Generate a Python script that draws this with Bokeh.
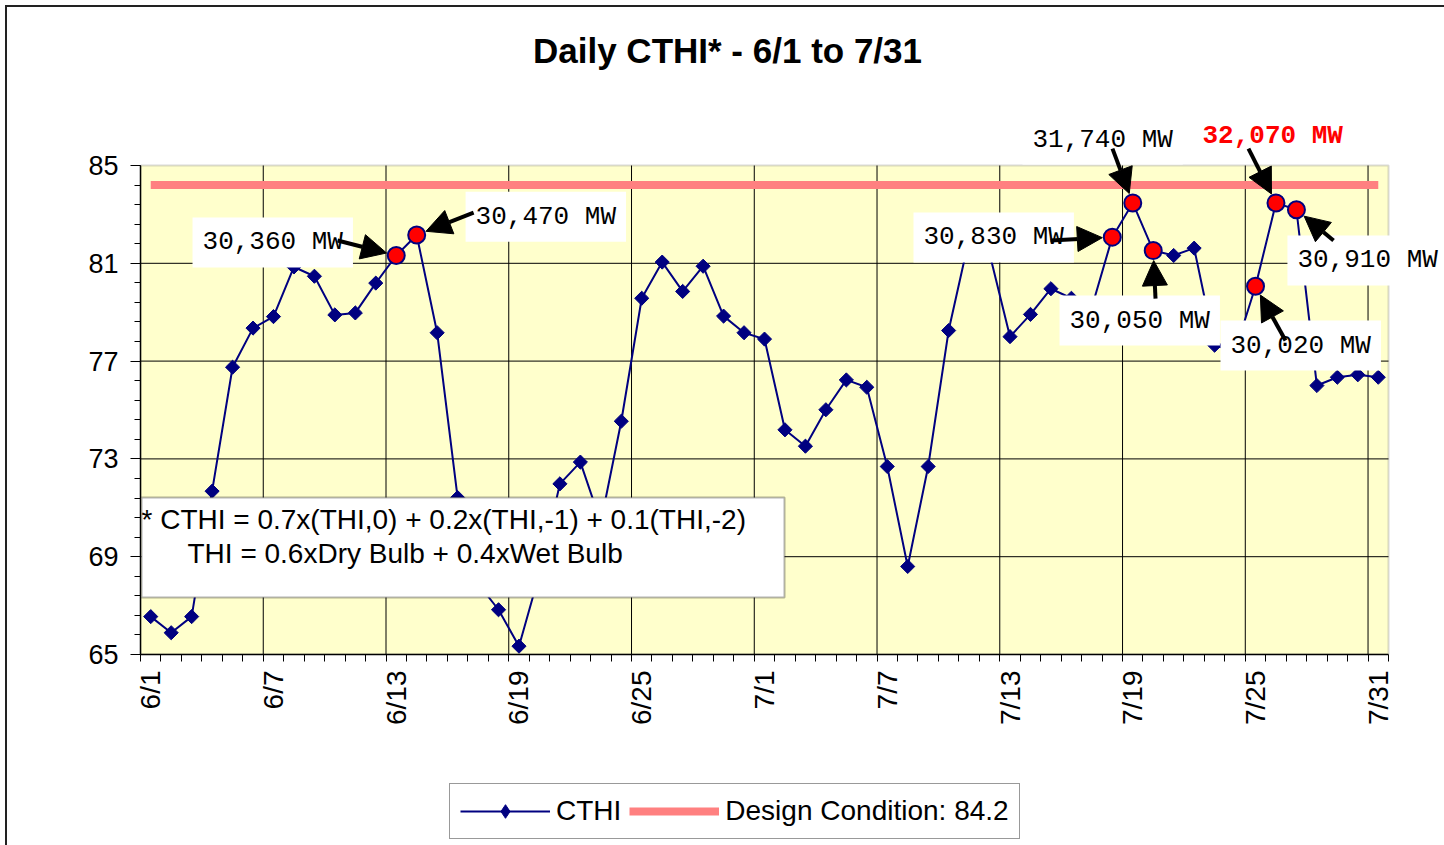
import math
from bokeh.plotting import figure
from bokeh.layouts import column
from bokeh.models import (FixedTicker, Range1d, Label, Arrow, NormalHead,
                          BoxAnnotation, Legend, LegendItem)
from bokeh.embed import file_html
from bokeh.resources import INLINE

# ---------------- data ----------------
dates = [f"6/{d}" for d in range(1, 31)] + [f"7/{d}" for d in range(1, 32)]
cthi = [66.55, 65.89, 66.55, 71.68, 76.75, 78.35, 78.82, 80.85, 80.47, 78.89,
        78.97, 80.19, 81.32, 82.16, 78.16, 71.42, 67.90, 66.83, 65.34, 68.30,
        71.98, 72.87, 70.40, 74.54, 79.57, 81.05, 79.85, 80.88, 78.84, 78.16,
        77.90, 74.19, 73.52, 75.01, 76.23, 75.93, 72.69, 68.60, 72.69, 78.25,
        82.00, 81.40, 78.00, 78.91, 79.96, 79.57, 79.20, 82.07, 83.47, 81.52,
        81.32, 81.62, 77.65, 77.40, 80.06, 83.47, 83.19, 76.00, 76.34, 76.44,
        76.34]
design_condition = 84.2
tick_labels = ["6/1", "6/7", "6/13", "6/19", "6/25", "7/1", "7/7", "7/13", "7/19", "7/25", "7/31"]
y_ticks = [65, 69, 73, 77, 81, 85]
peak_dates = ["6/13", "6/14", "7/18", "7/19", "7/20", "7/25", "7/26", "7/27"]
peak_loads = ["30,360 MW", "30,470 MW", "30,830 MW", "31,740 MW",
              "30,050 MW", "30,020 MW", "32,070 MW", "30,910 MW"]
title_text = "Daily CTHI* - 6/1 to 7/31"
note_lines = ["* CTHI = 0.7x(THI,0) + 0.2x(THI,-1) + 0.1(THI,-2)",
              "THI = 0.6xDry Bulb + 0.4xWet Bulb"]

# ---------------- layout constants (page pixels) ----------------
OX, OY = 7, 7                     # layout origin on the page (css margin)
W = 1437
H1 = 728                          # main chart height
H2 = 110                          # legend strip height
PA_L, PA_R, PA_T, PA_B = 140, 1388, 165, 654     # chart plot area on page
FR_L, FR_R, FR_T = 140, OX + W, 20               # bokeh frame on page
N = len(dates)
Y0, Y1 = min(y_ticks), max(y_ticks)
PX_X = (PA_R - PA_L) / N
PX_Y = (PA_B - PA_T) / (Y1 - Y0)
X0 = -0.5
XMAX = X0 + (FR_R - FR_L) / PX_X
YMAX = Y0 + (PA_B - FR_T) / PX_Y


def dx(px):
    return X0 + (px - PA_L) / PX_X


def dy(py):
    return Y0 + (PA_B - py) / PX_Y


SANS = "Liberation Sans"
MONO = "Liberation Mono"
x = list(range(N))

p = figure(width=W, height=H1, output_backend="svg", toolbar_location=None,
           x_range=Range1d(X0, XMAX), y_range=Range1d(Y0, YMAX),
           min_border_left=FR_L - OX, min_border_right=0, min_border_top=FR_T - OY,
           min_border_bottom=OY + H1 - PA_B,
           background_fill_color="white", border_fill_color="white")
p.outline_line_color = None
p.xgrid.visible = False
p.ygrid.visible = False

# plot-area background
p.add_layout(BoxAnnotation(left=X0, right=N - 0.5, bottom=Y0, top=Y1, fill_color="#FFFFCC",
                           fill_alpha=1, line_color="#808080", line_width=2, level="image"))

# ---- x axis: labels at category centres, minor ticks at boundaries ----
label_pos = [dates.index(t) for t in tick_labels]
xa = p.xaxis[0]
xa.bounds = (X0, N - 0.5)
xa.ticker = FixedTicker(ticks=label_pos, minor_ticks=[k - 0.5 for k in range(N + 1)])
xa.major_label_overrides = {i: t for i, t in zip(label_pos, tick_labels)}
xa.major_label_orientation = math.pi / 2
xa.major_label_standoff = 6
xa.major_label_text_font = SANS
xa.major_label_text_font_size = "28px"
xa.major_label_text_color = "black"
xa.major_tick_out = 10
xa.major_tick_in = 0
xa.major_tick_line_color = None
xa.minor_tick_out = 7
xa.minor_tick_in = 0
xa.minor_tick_line_color = "black"
xa.axis_line_color = "black"
xa.axis_line_width = 1.5

# ---- y axis ----
ya = p.yaxis[0]
ya.bounds = (Y0, Y1)
ya.ticker = FixedTicker(ticks=y_ticks, minor_ticks=[round(Y0 + 0.8 * k, 2) for k in range(26)])
ya.major_label_text_font = SANS
ya.major_label_text_font_size = "27px"
ya.major_label_text_color = "black"
ya.major_label_standoff = 12
ya.major_tick_out = 10
ya.major_tick_in = 0
ya.minor_tick_out = 6
ya.minor_tick_in = 0
ya.axis_line_color = "black"
ya.axis_line_width = 1.5
ya.major_tick_line_color = "black"
ya.minor_tick_line_color = "black"

# ---- grid lines (limited to the plot area) ----
hg = y_ticks[1:-1]
vg = [k - 0.5 for k in range(6, N, 6)]
p.segment(x0=[X0] * len(hg), x1=[N - 0.5] * len(hg), y0=hg, y1=hg,
          line_color="black", line_width=1, level="underlay")
p.segment(x0=vg, x1=vg, y0=[Y0] * len(vg), y1=[Y1] * len(vg),
          line_color="black", line_width=1, level="underlay")

# ---- series ----
DESIGN = dict(line_color="#FF8080", line_width=8)
LINE = dict(line_color="#000080", line_width=2)
DIA = dict(marker="square", angle=math.pi / 4, size=10, fill_color="#000080", line_color="#000080")
p.line(x, [design_condition] * N, **DESIGN)
p.line(x, cthi, **LINE)
p.scatter(x, cthi, **DIA)

pk_idx = [dates.index(d) for d in peak_dates]
pk_val = [cthi[i] for i in pk_idx]
p.scatter(pk_idx, pk_val, marker="circle", size=17, fill_color="red",
          line_color="#000080", line_width=2)

# ---- formula box ----
p.add_layout(BoxAnnotation(left=dx(141), right=dx(784), top=dy(497), bottom=dy(597),
                           fill_color="white", fill_alpha=1, line_color="black",
                           line_width=2, level="annotation"))
for txt, (lx, ly) in zip(note_lines, [(141, 519), (187, 553)]):
    p.add_layout(Label(x=dx(lx), y=dy(ly), text=txt, text_font=SANS, text_font_size="28px",
                       text_align="left", text_baseline="alphabetic", text_color="black"))

# ---- peak annotations (pixel offsets from the marked point; y down) ----
PAD = 10
label_off = [(-192.7, -13), (59.9, -18.3), (-187.8, 0.3), (-99.3, -63.3),
             (-82.7, 70), (-24, 59.3), (-72.5, -67.3), (2.0, 50.7)]
tail_off = [(-58.7, -15), (56.9, -22.3), (-61.8, 3.3), (-20.3, -54.3),
            (2.3, 48), (30, 54.3), (-27.5, -54.3), (37.1, 30.7)]
for i, v, txt, (lx, ly) in zip(pk_idx, pk_val, peak_loads, label_off):
    red = txt == "32,070 MW"
    p.add_layout(Label(x=i + (lx - PAD - 1) / PX_X, y=v - ly / PX_Y, text=txt, text_font=MONO,
                       text_font_size="26px", text_align="left", text_baseline="middle",
                       text_color="red" if red else "black",
                       text_font_style="bold" if red else "normal",
                       background_fill_color="white", padding=PAD))
for i, v, (tx, ty) in zip(pk_idx, pk_val, tail_off):
    d = math.hypot(tx, ty)
    hx, hy = tx / d * 10, ty / d * 10
    p.add_layout(Arrow(x_start=i + tx / PX_X, y_start=v - ty / PX_Y,
                       x_end=i + hx / PX_X, y_end=v - hy / PX_Y,
                       line_color="black", line_width=4,
                       end=NormalHead(size=25, fill_color="black", line_color="black")))

# ---- title ----
p.add_layout(Label(x=dx(727), y=dy(50), text=title_text, text_font=SANS, text_font_size="35px",
                   text_font_style="bold", text_align="center", text_baseline="alphabetic",
                   text_color="black"))

# ---- legend strip (its renderers hold the same data, kept out of view) ----
q = figure(width=W, height=H2, output_backend="svg", toolbar_location=None,
           x_axis_type=None, y_axis_type=None, x_range=Range1d(X0, XMAX), y_range=Range1d(0, 1),
           min_border=0, background_fill_color="white", border_fill_color="white")
q.outline_line_color = None
lg_line = q.line(x, cthi, **LINE)
lg_dia = q.scatter(x, cthi, marker="diamond", size=18, fill_color="#000080", line_color="#000080")
lg_design = q.line(x, [design_condition] * N, **DESIGN)
legend = Legend(items=[LegendItem(label="CTHI", renderers=[lg_line, lg_dia]),
                       LegendItem(label="Design Condition: " + str(design_condition),
                                  renderers=[lg_design])],
                orientation="horizontal", location=(449 - FR_L, OY + H1 + H2 - 839),
                label_text_font=SANS, label_text_font_size="28px", label_text_color="black",
                glyph_width=90, glyph_height=34, label_standoff=6, spacing=8,
                padding=10, margin=0, border_line_color="#333333", border_line_width=1.5,
                background_fill_color="white", background_fill_alpha=1)
q.add_layout(legend)

layout = column(p, q, spacing=0)
layout.styles = {"margin-left": f"{OX - 2}px", "margin-top": f"{OY - 2}px",
                 "border-left": "2px solid #222222", "border-top": "2px solid #222222"}

open("out.html", "w").write(file_html(layout, INLINE))
